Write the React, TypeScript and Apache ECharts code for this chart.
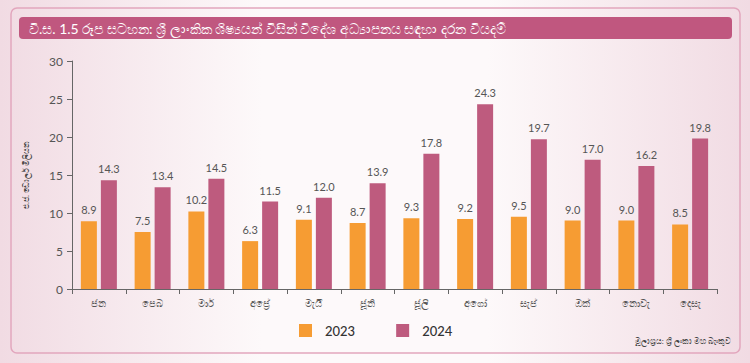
import React, { useEffect, useRef } from "react";
import * as echarts from "echarts";

const months = ["ජන", "පෙබ", "මාර්", "අප්‍රේ", "මැයි", "ජූනි", "ජූලි", "අගෝ", "සැප්", "ඔක්", "නොවැ", "දෙසැ"];
const values2023 = [8.9, 7.5, 10.2, 6.3, 9.1, 8.7, 9.3, 9.2, 9.5, 9.0, 9.0, 8.5];
const values2024 = [14.3, 13.4, 14.5, 11.5, 12.0, 13.9, 17.8, 24.3, 19.7, 17.0, 16.2, 19.8];
const seriesNames = ["2023", "2024"];
const titleText = "වි.ස. 1.5 රූප සටහන: ශ්‍රී ලාංකික ශිෂ්‍යයන් විසින් විදේශ අධ්‍යාපනය සඳහා දරන වියදම්";
const yAxisName = "එ.ජ. ඩොලර් මිලියන";
const sourceText = "මූලාශ්‍රය: ශ්‍රී ලංකා මහ බැංකුව";

const FONT = "Lato, 'Noto Sans', sans-serif";

export default function App() {
  const ref = useRef<HTMLDivElement>(null);
  useEffect(() => {
    if (!ref.current) return;
    const chart = echarts.init(ref.current, null, { renderer: "svg" });
    const labelCfg = {
      show: true,
      position: "top",
      distance: 6,
      fontSize: 11,
      color: "#555",
      fontFamily: FONT,
      formatter: (p: any) => Number(p.value).toFixed(1),
    };
    chart.setOption({
      animation: false,
      backgroundColor: {
        type: "linear",
        x: 0, y: 0, x2: 1, y2: 0,
        colorStops: [
          { offset: 0, color: "#f1dbe3" },
          { offset: 0.35, color: "#fdf9fa" },
          { offset: 0.65, color: "#fdf9fa" },
          { offset: 1, color: "#f1dbe3" },
        ],
      },
      textStyle: { fontFamily: FONT },
      graphic: [
        {
          type: "rect",
          shape: { x: 11, y: 8, width: 729, height: 345, r: 6 },
          style: { fill: "none", stroke: "#e2a6bd", lineWidth: 1.5 },
          silent: true,
        },
        {
          type: "rect",
          shape: { x: 19, y: 17, width: 713, height: 22, r: 4 },
          style: { fill: "#c0577f" },
          silent: true,
        },
        {
          type: "text",
          x: 29,
          y: 28,
          style: {
            text: titleText,
            fill: "#ffffff",
            fontSize: 14,
            fontFamily: FONT,
            verticalAlign: "middle",
          },
        },
        {
          type: "text",
          x: 731,
          y: 341,
          style: {
            text: sourceText,
            fill: "#444",
            fontSize: 8,
            fontFamily: FONT,
            align: "right",
            verticalAlign: "middle",
          },
        },
      ],
      legend: {
        left: 299,
        top: 324,
        padding: 0,
        itemWidth: 13,
        itemHeight: 13,
        itemGap: 41,
        icon: "rect",
        data: seriesNames,
        textStyle: { fontSize: 13, color: "#333", fontWeight: 500, fontFamily: FONT, padding: [0, 0, 0, 8] },
      },
      grid: { left: 72, right: 33, top: 61, bottom: 74 },
      xAxis: {
        type: "category",
        data: months,
        axisLine: { lineStyle: { color: "#666" } },
        axisTick: { show: true, length: 5, lineStyle: { color: "#666" } },
        axisLabel: { fontSize: 10, color: "#555", margin: 9 },
      },
      yAxis: {
        type: "value",
        min: 0,
        max: 30,
        interval: 5,
        name: yAxisName,
        nameLocation: "middle",
        nameGap: 42,
        nameRotate: 90,
        nameTextStyle: { fontSize: 8, color: "#444" },
        axisLine: { show: true, lineStyle: { color: "#666" } },
        axisTick: { show: true, length: 5, lineStyle: { color: "#666" } },
        axisLabel: { fontSize: 12, color: "#555", margin: 9 },
        splitLine: { show: false },
      },
      series: [
        {
          name: seriesNames[0],
          type: "bar",
          data: values2023,
          barWidth: 16,
          barGap: "25%",
          itemStyle: { color: "#f69c33" },
          label: labelCfg,
        },
        {
          name: seriesNames[1],
          type: "bar",
          data: values2024,
          barWidth: 16,
          barGap: "25%",
          itemStyle: { color: "#be5b7e" },
          label: labelCfg,
        },
      ],
    });
    return () => chart.dispose();
  }, []);
  return (
    <div
      ref={ref}
      style={{ position: "fixed", left: 0, top: 0, width: 750, height: 363 }}
    />
  );
}
